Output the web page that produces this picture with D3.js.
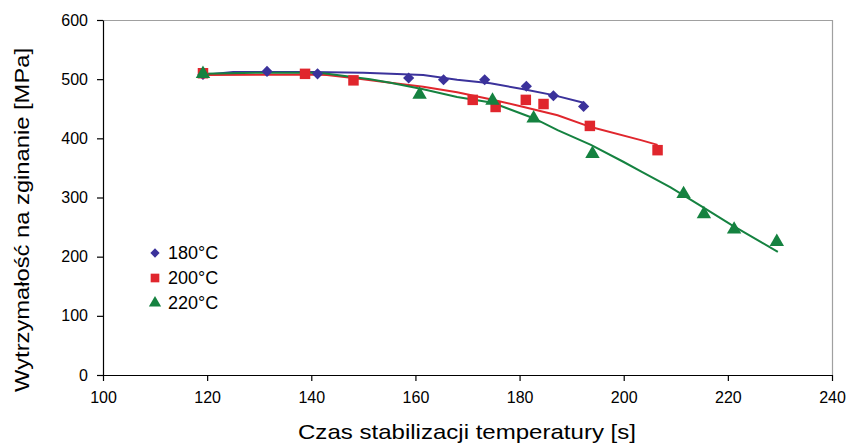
<!DOCTYPE html>
<html>
<head>
<meta charset="utf-8">
<script src="https://cdn.jsdelivr.net/npm/d3@7"></script>
<style>
  html, body { margin: 0; padding: 0; background: #fff; }
  svg { display: block; font-family: "Liberation Sans", Arial, sans-serif; }
</style>
</head>
<body>
<svg id="chart" width="849" height="444"></svg>
<script>
// ---- data ----
const xTicks = [100, 120, 140, 160, 180, 200, 220, 240];
const yTicks = [0, 100, 200, 300, 400, 500, 600];
const seriesNames = ["180°C", "200°C", "220°C"];

// measured points
const x180 = [119.2, 131.5, 141.2, 158.7, 165.4, 173.3, 181.3, 186.5, 192.3];
const y180 = [508, 513, 509, 502, 499, 499, 488, 472, 454];
const x200 = [119.2, 138.8, 148.1, 171.0, 175.4, 181.2, 184.6, 193.5, 206.5];
const y200 = [510, 509, 498, 465, 453, 465, 458, 421, 380];
const x220 = [119.2, 160.8, 174.8, 182.7, 194.0, 211.5, 215.4, 221.2, 229.4];
const y220 = [509, 474, 464, 434, 374, 306, 272, 246, 225];

// fitted trend lines
const tx180 = [119.2, 125, 140, 150, 155.2, 161.5, 168, 174.4, 180.8, 186.5, 192.3];
const ty180 = [507, 512, 512, 511, 509, 507, 499, 493, 483, 473, 460];
const tx200 = [119.2, 140, 143, 148, 155.2, 161.5, 168, 174.4, 180.8, 187.3, 193.7, 203.3, 206.5];
const ty200 = [507, 508, 507, 502, 494, 487, 478, 466, 453, 439, 419, 397, 389];
const tx220 = [119.2, 130, 140, 142.3, 151.3, 155.2, 161.5, 168, 174.8, 182.7, 187.3, 193.7, 200, 203.3, 209, 214.8, 220.6, 226.3, 229.6];
const ty220 = [509, 511, 511, 510, 500, 494, 483, 470, 460, 434, 414, 389, 360, 344, 317, 286, 254, 225, 208];

const colors = ["#3b329b", "#e0262d", "#158240"];

// ---- layout ----
const svg = d3.select("#chart");
const L = 103, R = 832, T = 20, B = 375;
const x = d3.scaleLinear().domain([100, 240]).range([L, R]);
const y = d3.scaleLinear().domain([0, 600]).range([B, T]);

// frame top/right (grey)
svg.append("path")
  .attr("d", `M${L},${T + 0.5}H${R + 0.5}V${B}`)
  .attr("fill", "none").attr("stroke", "#a0a0a0").attr("stroke-width", 1.2);

// axes
const yAxis = svg.append("g").attr("transform", `translate(${L},0)`)
  .call(d3.axisLeft(y).tickValues(yTicks).tickSize(6).tickPadding(9).tickSizeOuter(0));
const xAxis = svg.append("g").attr("transform", `translate(0,${B})`)
  .call(d3.axisBottom(x).tickValues(xTicks).tickSize(6).tickPadding(8).tickSizeOuter(0));
[yAxis, xAxis].forEach(g => {
  g.select(".domain").attr("stroke", "#000").attr("stroke-width", 1.2);
  g.selectAll(".tick line").attr("stroke", "#000").attr("stroke-width", 1.2);
  g.selectAll("text").attr("fill", "#000").attr("font-family", "Liberation Sans, Arial, sans-serif");
});
yAxis.selectAll("text").attr("font-size", 16);
xAxis.selectAll("text").attr("font-size", 16).attr("dy", "0.85em");

// axis titles
svg.append("text").attr("x", 467).attr("y", 439)
  .attr("text-anchor", "middle").attr("font-size", 21).attr("fill", "#000")
  .attr("textLength", 338).attr("lengthAdjust", "spacingAndGlyphs")
  .text("Czas stabilizacji temperatury [s]");
svg.append("text").attr("transform", `translate(29,220) rotate(-90)`)
  .attr("text-anchor", "middle").attr("font-size", 20).attr("fill", "#000")
  .attr("textLength", 344).attr("lengthAdjust", "spacingAndGlyphs")
  .text("Wytrzymałość na zginanie [MPa]");

// trend lines
const line = d3.line().x(d => x(d[0])).y(d => y(d[1]));
const trends = [
  d3.zip(tx180, ty180), d3.zip(tx200, ty200), d3.zip(tx220, ty220)
];
trends.forEach((t, i) => {
  svg.append("path").attr("d", line(t)).attr("fill", "none")
    .attr("stroke", colors[i]).attr("stroke-width", 2);
});

// markers
const symbols = [
  d3.symbol().type(d3.symbolDiamond2).size(80),
  d3.symbol().type(d3.symbolSquare).size(110),
  d3.symbol().type(d3.symbolTriangle).size(90)
];
const pts = [d3.zip(x180, y180), d3.zip(x200, y200), d3.zip(x220, y220)];
pts.forEach((p, i) => {
  svg.append("g").selectAll("path").data(p).join("path")
    .attr("d", symbols[i])
    .attr("transform", d => `translate(${x(d[0])},${y(d[1])})`)
    .attr("fill", colors[i]);
});

// legend
const legendY = [253, 278, 303];
seriesNames.forEach((name, i) => {
  const sym = [
    d3.symbol().type(d3.symbolDiamond2).size(55),
    d3.symbol().type(d3.symbolSquare).size(75),
    d3.symbol().type(d3.symbolTriangle).size(65)
  ][i];
  svg.append("path").attr("d", sym)
    .attr("transform", `translate(155,${legendY[i]})`).attr("fill", colors[i]);
  svg.append("text").attr("x", 168).attr("y", legendY[i] + 6)
    .attr("font-size", 18).attr("fill", "#000").text(name);
});
</script>
</body>
</html>
